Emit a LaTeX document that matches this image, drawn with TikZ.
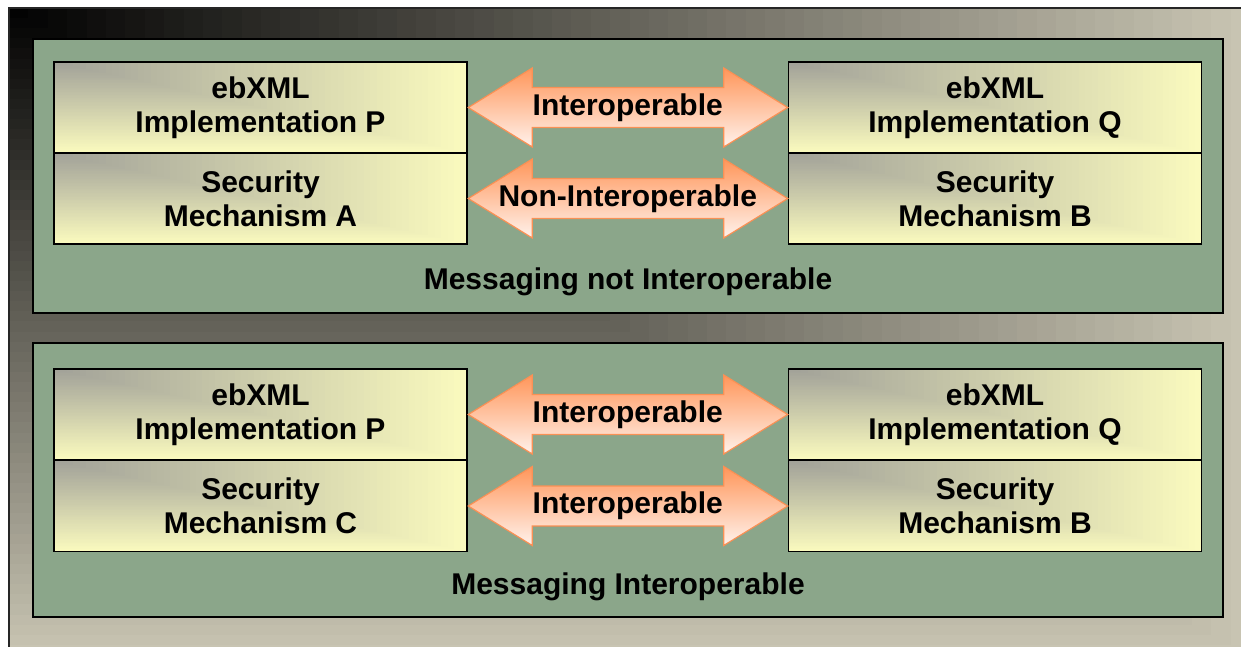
\documentclass[tikz,border=0pt]{standalone}
\usepackage{fontspec}
\setmainfont{Liberation Sans}
\usetikzlibrary{calc}

\definecolor{framebeige}{RGB}{200,196,178}
\definecolor{panelgreen}{RGB}{139,166,138}
\definecolor{boxgray}{RGB}{160,160,152}
\definecolor{boxyellow}{RGB}{250,250,190}
\definecolor{arroworange}{RGB}{255,150,90}
\definecolor{arrowpale}{RGB}{255,242,236}
\definecolor{arrowline}{RGB}{250,145,85}

\tikzset{
    cornershade/.style 2 args={path picture={
        \foreach \k in {0,...,63} {
            \pgfmathsetmacro{\shadeval}{100*(1-\k/64)}
            \fill[#2!\shadeval!#1] (path picture bounding box.north west) rectangle
                ($(path picture bounding box.north west)!{1-\k/64}!(path picture bounding box.south east)$);
        }
    }}
}

\begin{document}
\begin{tikzpicture}[x=1pt, y=-1pt,
    every node/.style={font=\fontsize{30}{34}\selectfont\bfseries},
    panel/.style={draw=black, line width=1.2pt, fill=panelgreen, minimum width=1190pt, minimum height=274pt, inner sep=0pt},
    layerbox/.style={draw=black, line width=1.2pt, minimum width=413pt, minimum height=91pt, inner sep=0pt, align=center,
        cornershade={boxgray}{boxyellow}},
    arrowbody/.style={draw=arrowline, line width=1.2pt, line join=miter, top color=arroworange, bottom color=arrowpale}
]
\useasboundingbox (0,0) rectangle (1241,646);

% background, darker towards the top left corner
\path[cornershade={black}{framebeige}] (9,8) rectangle (1250,655);
\draw[line width=1.2pt, black!85] (9,655) -- (9,8) -- (1250,8);

% upper panel
\node[panel] (upper) at (628,176) {};
\node[layerbox] (ebP1) at (260.5,107.5) {ebXML\\Implementation P};
\node[layerbox] (secA) at (260.5,198.5) {Security\\Mechanism A};
\node[layerbox] (ebQ1) at (995,107.5) {ebXML\\Implementation Q};
\node[layerbox] (secB1) at (995,198.5) {Security\\Mechanism B};
\coordinate (mid1) at ($(ebP1.east)!0.5!(ebQ1.west)$);
\coordinate (mid2) at ($(secA.east)!0.5!(secB1.west)$);
\node (note1) at (628,282) {Messaging not Interoperable};

% lower panel
\node[panel] (lower) at (628,480) {};
\node[layerbox] (ebP2) at (260.5,414.5) {ebXML\\Implementation P};
\node[layerbox] (secC) at (260.5,506) {Security\\Mechanism C};
\node[layerbox] (ebQ2) at (995,414.5) {ebXML\\Implementation Q};
\node[layerbox] (secB2) at (995,506) {Security\\Mechanism B};
\coordinate (mid3) at ($(ebP2.east)!0.5!(ebQ2.west)$);
\coordinate (mid4) at ($(secC.east)!0.5!(secB2.west)$);
\node (note2) at (628,587) {Messaging Interoperable};

% double arrows between the layers
\foreach \m in {mid1,mid2,mid3,mid4} {
    \filldraw[arrowbody] ($(\m)+(-159.5,0)$) -- ++(64,-39.5) -- ++(0,19.5) -- ++(191.5,0) -- ++(0,-19.5)
        -- ++(64,39.5) -- ++(-64,39.5) -- ++(0,-19.5) -- ++(-191.5,0) -- ++(0,19.5) -- cycle;
}
\node (link1) at (mid1) {Interoperable};
\node (link2) at (mid2) {Non-Interoperable};
\node (link3) at (mid3) {Interoperable};
\node (link4) at (mid4) {Interoperable};
\end{tikzpicture}
\end{document}
